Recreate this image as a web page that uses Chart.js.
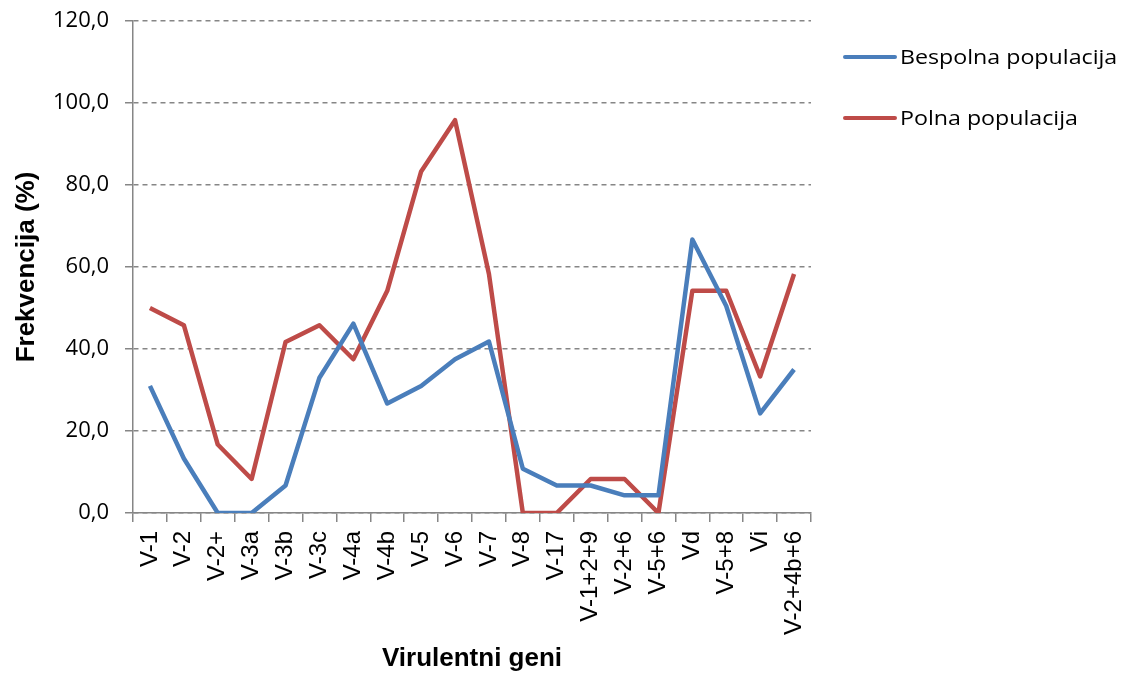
<!DOCTYPE html>
<html>
<head>
<meta charset="utf-8">
<script src="https://cdn.jsdelivr.net/npm/chart.js@4"></script>
<style>
  body { margin: 0; background: #fff; }
  #wrap { position: relative; width: 1128px; height: 673px; }
  .leg { position: absolute; left: 843px; font-family: "Open Sans", sans-serif; font-size: 20px; color: #000; display: flex; align-items: center; white-space: nowrap; }
  .leg span.ln { display: inline-block; width: 54px; height: 4px; border-radius: 2px; margin-right: 3px; }
  .leg span.tx { display: inline-block; transform: scaleX(1.16); transform-origin: left center; }
</style>
</head>
<body>
<div id="wrap">
  <canvas id="graf" width="1128" height="673"></canvas>
  <div class="leg" style="top:43px"><span class="ln" style="background:#4A7EBB"></span><span class="tx">Bespolna populacija</span></div>
  <div class="leg" style="top:104px"><span class="ln" style="background:#BE4B48"></span><span class="tx">Polna populacija</span></div>
</div>
<script>
// kategorije (virulentni geni)
const geni = ['V-1', 'V-2', 'V-2+', 'V-3a', 'V-3b', 'V-3c', 'V-4a', 'V-4b', 'V-5', 'V-6',
  'V-7', 'V-8', 'V-17', 'V-1+2+9', 'V-2+6', 'V-5+6', 'Vd', 'V-5+8', 'Vi', 'V-2+4b+6'];

// frekvencija (%)
const bespolna = [31.0, 13.3, 0, 0, 6.7, 33.0, 46.2, 26.7, 31.0, 37.5,
  41.8, 10.8, 6.7, 6.7, 4.3, 4.3, 66.7, 50.5, 24.3, 35.0];
const polna = [50.0, 45.8, 16.7, 8.3, 41.7, 45.8, 37.5, 54.2, 83.3, 95.8,
  58.3, 0, 0, 8.3, 8.3, 0, 54.2, 54.2, 33.3, 58.3];

const yTicks = [0, 20, 40, 60, 80, 100, 120];

const sivo = '#868686';

new Chart(document.getElementById('graf'), {
  type: 'line',
  data: {
    labels: geni,
    datasets: [
      { label: 'Bespolna populacija', data: bespolna, borderColor: '#4A7EBB', borderWidth: 4.5, pointRadius: 0, tension: 0, borderJoinStyle: 'round' },
      { label: 'Polna populacija', data: polna, borderColor: '#BE4B48', borderWidth: 4.5, pointRadius: 0, tension: 0, borderJoinStyle: 'round' }
    ]
  },
  options: {
    responsive: false,
    animation: false,
    layout: { padding: { top: 21, right: 317, left: 0, bottom: 0 } },
    plugins: { legend: { display: false }, tooltip: { enabled: false } },
    scales: {
      x: {
        offset: true,
        grid: { offset: true, drawOnChartArea: false, drawTicks: true, tickLength: 9, color: sivo, lineWidth: 1.5 },
        border: { color: sivo, width: 1.5 },
        ticks: { minRotation: 90, maxRotation: 90, autoSkip: false, padding: 9, color: '#000',
          font: { family: '"Liberation Sans", Arial, sans-serif', size: 24 } },
        title: { display: true, text: 'Virulentni geni', color: '#000', padding: { top: 0, bottom: 1 },
          font: { family: '"Liberation Sans", Arial, sans-serif', size: 26, weight: 'bold', lineHeight: 1 } },
        afterFit: s => { s.height = 160; s.paddingLeft = 0; s.paddingRight = 0; }
      },
      y: {
        min: 0, max: 120,
        afterBuildTicks: s => { s.ticks = yTicks.map(v => ({ value: v })); },
        grid: { color: sivo, tickLength: 8, tickBorderDash: [], lineWidth: 1.5 },
        border: { color: sivo, width: 1.5, dash: [5, 4] },
        ticks: { padding: 16, color: '#000', callback: v => v.toFixed(1).replace('.', ','),
          font: { family: '"Open Sans", sans-serif', size: 22 } },
        title: { display: true, text: 'Frekvencija (%)', color: '#000', padding: { top: 14, bottom: 0 },
          font: { family: '"Liberation Sans", Arial, sans-serif', size: 26, weight: 'bold', lineHeight: 1 } },
        afterFit: s => { s.width = 133; s.paddingTop = 0; s.paddingBottom = 0; }
      }
    }
  }
});
</script>
</body>
</html>
